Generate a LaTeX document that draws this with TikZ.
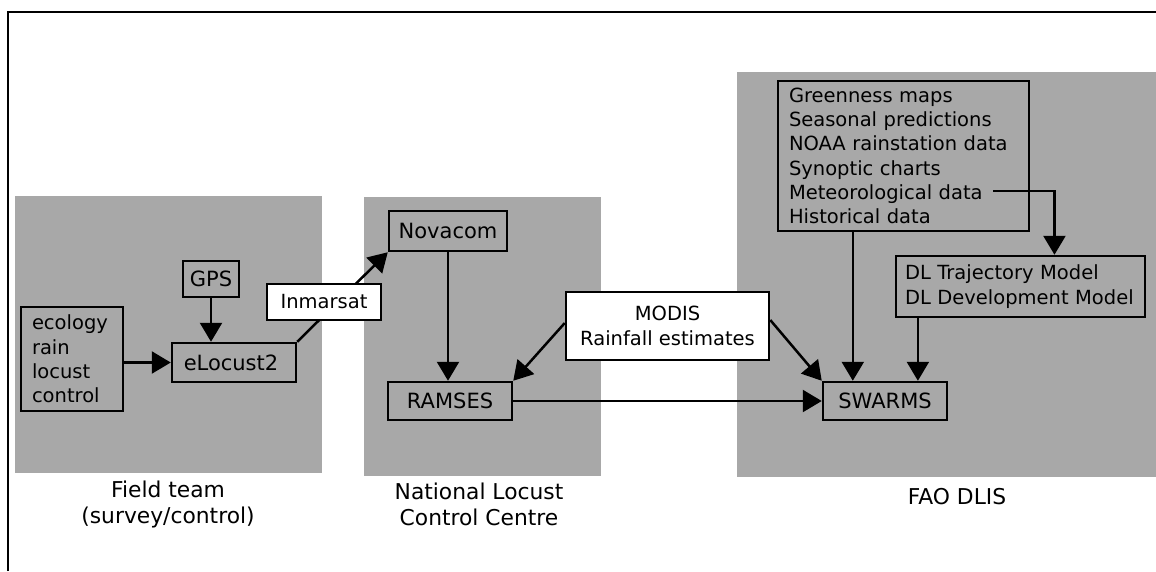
\documentclass[tikz,border=0pt]{standalone}
\usepackage{fontspec}
\setmainfont{DejaVu Sans}
\usetikzlibrary{arrows.meta,calc}
\definecolor{panelgray}{RGB}{168,168,168}
\tikzset{
  txt/.style={font=\fontsize{19.5}{24.3}\selectfont},
  box/.style={txt,draw,line width=2.5pt,fill=panelgray,inner sep=0pt,align=center},
  sbox/.style={box,font=\fontsize{21}{25}\selectfont},
  lbox/.style={box,align=left},
  wbox/.style={box,fill=white},
  arr/.style={line width=2.5pt,-{Triangle[length=19pt,width=22pt]}},
  panel/.style={fill=panelgray},
  caption/.style={font=\fontsize{21.8}{26}\selectfont,align=center,inner sep=0pt}
}
\begin{document}
\begin{tikzpicture}[x=1pt,y=-1pt]
\useasboundingbox (0,0) rectangle (1156,571);
\fill[white] (0,0) rectangle (1156,571);
% frame
\draw[line width=2.5pt] (8,571) -- (8,12) -- (1156,12);
% panels
\fill[panel] (15,196) rectangle (322,473);
\fill[panel] (364,197) rectangle (601,476);
\fill[panel] (737,72) rectangle (1156,477);
% nodes
\node[lbox,minimum width=102,minimum height=104,text width=80] (eco) at (72,359)
  {ecology\\rain\\locust\\control};
\node[sbox,minimum width=56,minimum height=36] (gps) at (211,279) {GPS};
\node[sbox,minimum width=124,minimum height=39] (eloc) at (234,362.5) {eLocust2\hspace{6pt}};
\node[sbox,minimum width=118,minimum height=40] (nova) at (448,231) {Novacom};
\node[sbox,minimum width=124,minimum height=38] (ram) at (450,401) {RAMSES};
\node[sbox,minimum width=124,minimum height=38] (swarms) at (885,401) {SWARMS};
\node[lbox,minimum width=251,minimum height=150,text width=229] (data) at (903.5,156)
  {Greenness maps\\Seasonal predictions\\NOAA rainstation data\\Synoptic charts\\Meteorological data\\Historical data};
\node[lbox,minimum width=249,minimum height=61,text width=231] (dl) at (1020.5,286.5)
  {DL Trajectory Model\\DL Development Model};
\coordinate (met) at (993,191);
% connectors
\draw[arr] (eco.east |- eloc.west) -- (eloc.west);
\draw[arr] (gps.south) -- (gps.south |- eloc.north);
\draw[arr] (eloc.north east) -- (nova.south west);
\node[wbox,minimum width=114,minimum height=36] (inm) at (324,302) {Inmarsat};
\draw[arr] (nova.south) -- (nova.south |- ram.north);
\node[wbox,minimum width=203,minimum height=68] (modis) at (667.5,326)
  {MODIS\\Rainfall estimates};
\draw[arr] ([yshift=3pt]modis.west) -- (ram.north east);
\draw[arr] ([yshift=6pt]modis.east) -- (swarms.north west);
\draw[arr] (ram.east) -- (swarms.west);
\coordinate (dsrc) at ($(data.south west)!0.3!(data.south east)$);
\draw[arr] (dsrc) -- (dsrc |- swarms.north);
\coordinate (dlsrc) at ($(dl.south west)!0.092!(dl.south east)$);
\draw[arr] (dlsrc) -- (dlsrc |- swarms.north);
\coordinate (dltgt) at ($(dl.north west)!0.635!(dl.north east)$);
\draw[arr] (met) -| (dltgt);
% captions
\node[caption] (cap1) at (168,504) {Field team\\(survey/control)};
\node[caption] (cap2) at (479,504.5) {National Locust\\Control Centre};
\node[caption] (cap3) at (957,497) {FAO DLIS};
\end{tikzpicture}
\end{document}
